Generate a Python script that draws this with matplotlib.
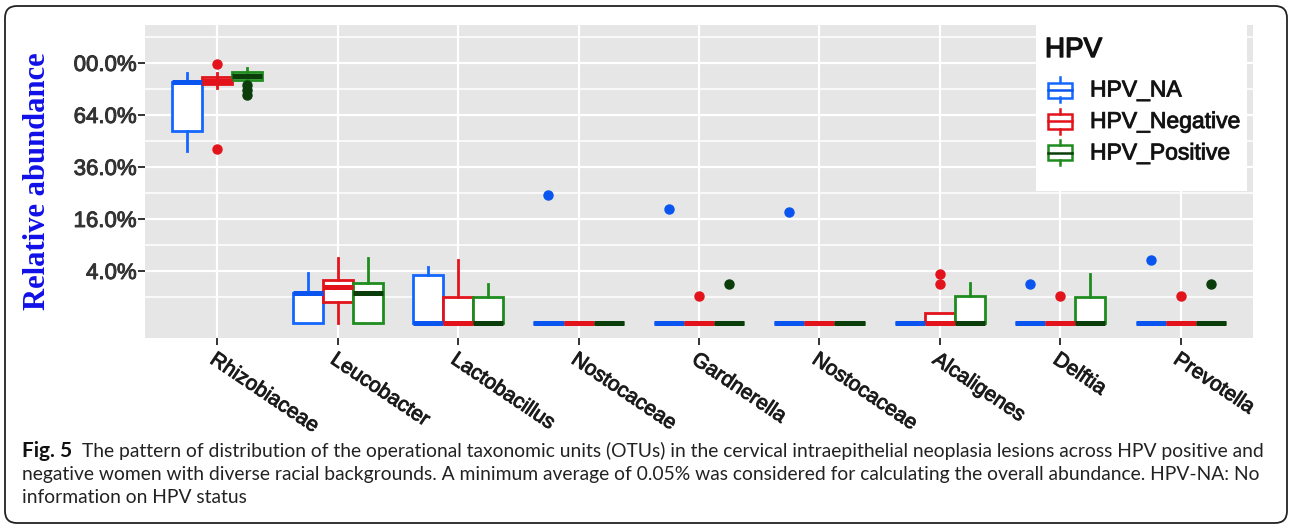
import matplotlib.pyplot as plt
import numpy as np
import matplotlib.patheffects as pe
from matplotlib.patches import FancyBboxPatch, Rectangle
from matplotlib.transforms import ScaledTranslation

# 数据：各分类在三组 HPV 状态下的箱线图统计量（相对丰度，%）
categories = ['Rhizobiaceae', 'Leucobacter', 'Lactobacillus', 'Nostocaceae', 'Gardnerella',
              'Nostocaceae', 'Alcaligenes', 'Delftia', 'Prevotella']
groups = ['HPV_NA', 'HPV_Negative', 'HPV_Positive']

na_q1 = [54.5, 0, 0, 0, 0, 0, 0, 0, 0]
na_med = [86.0, 1.33, 0, 0, 0, 0, 0, 0, 0]
na_q3 = [86.0, 1.33, 3.4, 0, 0, 0, 0, 0, 0]
na_lo = [43.8, 0, 0, 0, 0, 0, 0, 0, 0]
na_hi = [92.5, 3.7, 4.6, 0, 0, 0, 0, 0, 0]
na_out = [[], [], [], [24.2], [19.2], [18.2], [], [2.25], [5.87]]

neg_q1 = [84.5, 0.65, 0, 0, 0, 0, 0, 0, 0]
neg_med = [86.6, 1.9, 0, 0, 0, 0, 0, 0, 0]
neg_q3 = [89.5, 2.73, 1.0, 0, 0, 0, 0.15, 0, 0]
neg_lo = [81.7, 0, 0, 0, 0, 0, 0, 0, 0]
neg_hi = [92.5, 6.25, 5.87, 0, 0, 0, 0.15, 0, 0]
neg_out = [[99.2, 44.8], [], [], [], [1.08], [], [3.55, 2.25], [1.08], [1.08]]

pos_q1 = [87.3, 0, 0, 0, 0, 0, 0, 0, 0]
pos_med = [90.2, 1.33, 0, 0, 0, 0, 0, 0, 0]
pos_q3 = [93.2, 2.37, 1.0, 0, 0, 0, 1.08, 1.0, 0]
pos_lo = [86.0, 0, 0, 0, 0, 0, 0, 0, 0]
pos_hi = [96.2, 6.25, 2.25, 0, 0, 0, 2.37, 3.55, 0]
pos_out = [[83.8, 80.3, 76.9], [], [], [], [2.25], [], [], [], [2.25]]

y_ticks = [4, 16, 36, 64, 100]
y_ticklabels = ['4.0%', '16.0%', '36.0%', '64.0%', '00.0%']

caption_bold = 'Fig. 5'
caption_lines = [
    'The pattern of distribution of the operational taxonomic units (OTUs) in the cervical intraepithelial neoplasia lesions across HPV positive and',
    'negative women with diverse racial backgrounds. A minimum average of 0.05% was considered for calculating the overall abundance. HPV-NA: No',
    'information on HPV status',
]

# 样式
edge_cols = ['#1466FF', '#E3131B', '#1F8C1F']
med_cols = ['#0A55F0', '#E3131B', '#0B3D0B']
out_cols = ['#0A55F0', '#E3131B', '#0B3D0B']
offsets = [-0.25, 0, 0.25]
heavy = [pe.withStroke(linewidth=0.7, foreground='#2a2a2a')]

W, H = 1290, 526
fig = plt.figure(figsize=(W / 100, H / 100), dpi=100)
fig.patch.set_facecolor('white')

def fx(px):
    return px / W

def fy(py):
    return 1 - py / H

ax = fig.add_axes([fx(145), fy(338), fx(1253) - fx(145), fy(25) - fy(338)])
ax.set_facecolor('#E6E6E6')

fwd = lambda v: np.sign(v) * np.sqrt(np.abs(v))
inv = lambda v: np.sign(v) * v ** 2
ax.set_yscale('function', functions=(fwd, inv))

data = [
    (na_q1, na_med, na_q3, na_lo, na_hi, na_out),
    (neg_q1, neg_med, neg_q3, neg_lo, neg_hi, neg_out),
    (pos_q1, pos_med, pos_q3, pos_lo, pos_hi, pos_out),
]

x = np.arange(len(categories))
for g, (q1, med, q3, lo, hi, out) in enumerate(data):
    stats = []
    for i in range(len(categories)):
        stats.append(dict(q1=q1[i], med=med[i], q3=q3[i], whislo=lo[i], whishi=hi[i],
                          fliers=np.array(out[i])))
    ax.bxp(stats, positions=x + offsets[g], widths=0.25, patch_artist=True,
           showcaps=False, manage_ticks=False,
           boxprops=dict(facecolor='white', edgecolor=edge_cols[g], linewidth=2.0),
           whiskerprops=dict(color=edge_cols[g], linewidth=2.0),
           medianprops=dict(color=med_cols[g], linewidth=3.6, solid_capstyle='butt'),
           flierprops=dict(marker='o', markerfacecolor=out_cols[g],
                           markeredgecolor=out_cols[g], markersize=6.5))

ax.set_xlim(-0.6, 8.6)
ax.set_ylim(-0.333, 131.3)
ax.set_yticks(y_ticks)
ax.set_yticklabels(y_ticklabels)
ax.set_yticks([1, 9, 25, 49, 81, 121], minor=True)
ax.set_xticks(x)
ax.set_xticklabels(categories, rotation=-34, ha='left', va='top', rotation_mode='anchor',
                   fontsize=15, family='Liberation Sans', color='#1A1A1A')
shift = ScaledTranslation(-12 / 100, -4 / 100, fig.dpi_scale_trans)
for lab in ax.get_xticklabels():
    lab.set_transform(lab.get_transform() + shift)
    lab.set_path_effects(heavy)

ax.grid(True, which='major', color='white', linewidth=1.6)
ax.grid(True, which='minor', axis='y', color='white', linewidth=1.1)
ax.set_axisbelow(True)
for s in ax.spines.values():
    s.set_visible(False)
ax.tick_params(axis='y', which='major', length=5, width=1.4, color='#333333',
               labelsize=16, labelcolor='#333333', pad=1)
ax.tick_params(axis='y', which='minor', length=0)
ax.tick_params(axis='x', length=5, width=1.4, color='#333333')
for lab in ax.get_yticklabels():
    lab.set_family('Liberation Sans')
    lab.set_path_effects([pe.withStroke(linewidth=0.7, foreground='#333333')])

fig.text(fx(38), fy(181), 'Relative abundance', rotation=90, ha='center', va='center',
         fontsize=22, fontweight='bold', family='Liberation Serif', color='#1010E8')

# 图例
lax = fig.add_axes([fx(1036), fy(191), fx(1247) - fx(1036), fy(25) - fy(191)])
lax.set_xlim(0, 211)
lax.set_ylim(166, 0)
lax.axis('off')
lax.add_patch(Rectangle((0, 0), 211, 166, facecolor='white', edgecolor='none'))
lax.text(9, 32, 'HPV', fontsize=20, family='Liberation Sans', color='#111111', va='baseline',
         path_effects=[pe.withStroke(linewidth=1.0, foreground='#111111')])
for g, name in enumerate(groups):
    cy = 65 + g * 31.5
    lax.add_patch(Rectangle((12, cy - 7.5), 24, 15, facecolor='white',
                            edgecolor=edge_cols[g], linewidth=1.8))
    lax.plot([12, 36], [cy, cy], color=med_cols[g], linewidth=1.8)
    lax.plot([24, 24], [cy - 12.5, cy - 7.5], color=edge_cols[g], linewidth=1.8)
    lax.plot([24, 24], [cy + 7.5, cy + 12.5], color=edge_cols[g], linewidth=1.8)
    lax.text(54, cy, name, fontsize=16.5, family='Liberation Sans', color='#111111',
             va='center', path_effects=heavy)

# 图注
fig.text(fx(22), fy(457), caption_bold, fontsize=15, fontweight='bold',
         family='Lato', color='#111111', va='baseline')
cap_texts = []
cap_texts.append(fig.text(fx(82), fy(457), caption_lines[0], fontsize=15,
                          family='Lato', color='#222222', va='baseline'))
cap_texts.append(fig.text(fx(22), fy(480), caption_lines[1], fontsize=15,
                          family='Lato', color='#222222', va='baseline'))
cap_texts.append(fig.text(fx(22), fy(503), caption_lines[2], fontsize=15,
                          family='Lato', color='#222222', va='baseline'))
r = fig.canvas.get_renderer()
w2 = cap_texts[1].get_window_extent(r).width
size = 15 * (1262 - 22) / w2
for t in cap_texts:
    t.set_fontsize(size)

# 外框
frame = FancyBboxPatch((5 / 100, 3 / 100), 1282 / 100, 517 / 100,
                       boxstyle='round,pad=0,rounding_size=0.12',
                       transform=fig.dpi_scale_trans, facecolor='none',
                       edgecolor='#222222', linewidth=1.3)
fig.patches.append(frame)

fig.savefig('out.png', dpi=100)
